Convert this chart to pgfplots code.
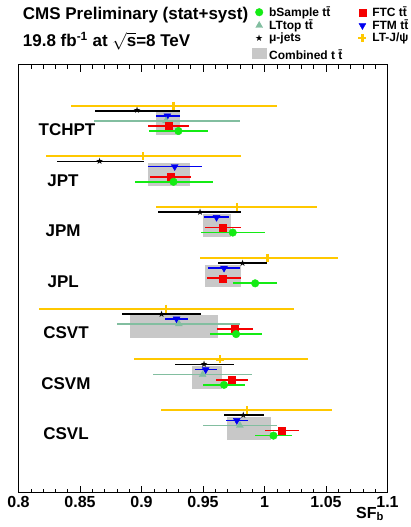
\documentclass[border=0pt]{standalone}
\usepackage{pgfplots}
\usepackage{pgfplotstable}
\pgfplotsset{compat=1.18}
\usepackage{fontspec}
\setmainfont{Liberation Sans}
\newfontfamily\starfont{DejaVu Sans}

\definecolor{cGreen}{RGB}{20,235,20}
\definecolor{cRed}{RGB}{245,0,0}
\definecolor{cBlue}{RGB}{0,0,240}
\definecolor{cTeal}{RGB}{130,190,160}
\definecolor{cYel}{RGB}{255,200,0}
\definecolor{cGray}{RGB}{200,200,200}

\newcommand\lbl{\fontsize{17}{20}\selectfont\bfseries}
\newcommand\tck{\fontsize{16}{19}\selectfont\bfseries}
\newcommand\leg{\fontsize{12}{14}\selectfont\bfseries}
\newcommand\ls{\rule[-3.5pt]{0pt}{11.5pt}}

% y: group g at 8+10g, one row per measurement
\pgfplotstableread{
x y em ep
0.926 8 0.083 0.084
0.901 18 0.079 0.080
0.9775 28 0.066 0.065
1.0024 38 0.055 0.057
0.920 48 0.103 0.104
0.964 58 0.070 0.071
0.9856 68 0.070 0.069
}\tJpsi
\pgfplotstableread{
x y em ep
0.8965 9 0.0345 0.0345
0.866 19 0.035 0.036
0.9476 29 0.034 0.033
0.9823 39 0.020 0.020
0.9163 49 0.032 0.032
0.951 59 0.024 0.024
0.9829 69 0.016 0.017
}\tMu
\pgfplotstableread{
x y em ep
0.921 10 0.009 0.010
0.927 20 0.022 0.022
0.961 30 0.010 0.010
0.9671 40 0.013 0.013
0.9285 50 0.0095 0.0095
0.9522 60 0.009 0.009
0.9775 70 0.009 0.009
}\tFTM
\pgfplotstableread{
x y em ep
0.920 11 0.059 0.060
0.9304 51 0.050 0.050
0.9497 61 0.040 0.040
0.980 71 0.030 0.030
}\tLTtop
\pgfplotstableread{
x y em ep
0.922 12 0.017 0.017
0.9236 22 0.017 0.017
0.966 32 0.0145 0.015
0.966 42 0.0125 0.015
0.976 52 0.0145 0.015
0.9734 62 0.013 0.013
1.0141 72 0.0136 0.0136
}\tFTC
\pgfplotstableread{
x y em ep
0.930 13 0.024 0.024
0.926 23 0.031 0.032
0.9742 33 0.026 0.026
0.9924 43 0.018 0.018
0.9769 53 0.021 0.021
0.9671 63 0.017 0.017
1.0073 73 0.015 0.015
}\tBS

\pgfplotsset{
  lm/.style={legend image code/.code={\path[##1] (0pt,0pt) (14.6pt,0pt) plot coordinates {(7.3pt,0pt)};}},
  meas/.style 2 args={only marks, forget plot, color=#1,
    error bars/x dir=both, error bars/x explicit, error bars/error mark=none,
    error bars/error bar style={line width=#2, color=#1}},
  box/.style={fill=cGray, draw=none, forget plot},
}

\begin{document}
\begin{tikzpicture}
\useasboundingbox (-18.5pt,-34.5pt) rectangle (391.5pt,492.5pt);
\begin{axis}[
    scale only axis,
    width=369pt, height=427.5pt,
    xmin=0.8, xmax=1.1,
    ymin=0, ymax=84.2, y dir=reverse,
    ytick=\empty,
    xtick={0.8,0.85,0.9,0.95,1,1.05,1.1},
    minor x tick num=4,
    xtick pos=both, xticklabel pos=lower,
    tick align=inside,
    major tick length=7pt, minor tick length=4pt,
    tick style={black, line width=0.6pt},
    axis line style={line width=1pt},
    /pgf/number format/assume math mode=true,
    xticklabel style={font=\tck},
    xlabel={SF\textsubscript{b}},
    xlabel style={font=\tck, at={(rel axis cs:1,0)}, anchor=base east, yshift=-25.8pt},
    clip=false,
    legend columns=2,
    legend cell align=left,
    legend style={draw=none, fill=none, inner sep=0pt, outer sep=0pt,
      at={(rel axis cs:0.632,1)}, anchor=north west, yshift=59.4pt,
      font=\leg, row sep=0pt,
      nodes={inner sep=1pt},
      /tikz/every odd column/.append style={column sep=1.4pt},
      /tikz/every even column/.append style={column sep=11.5pt}},
  ]
% combined tt boxes
\addplot[box] coordinates {(0.9117,9.3) (0.9312,9.3) (0.9312,13.8) (0.9117,13.8)} -- cycle;
\addplot[box] coordinates {(0.9054,19.3) (0.9394,19.3) (0.9394,23.8) (0.9054,23.8)} -- cycle;
\addplot[box] coordinates {(0.9497,29.3) (0.9728,29.3) (0.9728,33.8) (0.9497,33.8)} -- cycle;
\addplot[box] coordinates {(0.9516,39.3) (0.981,39.3) (0.981,43.8) (0.9516,43.8)} -- cycle;
\addplot[box] coordinates {(0.8905,49.3) (0.9625,49.3) (0.9625,53.8) (0.8905,53.8)} -- cycle;
\addplot[box] coordinates {(0.9413,59.3) (0.9653,59.3) (0.9653,63.8) (0.9413,63.8)} -- cycle;
\addplot[box] coordinates {(0.9693,69.3) (1.0052,69.3) (1.0052,73.8) (0.9693,73.8)} -- cycle;

\addplot[meas={cYel}{2pt}, mark=+, mark size=4pt, mark options={line width=2.2pt}]
  table[x=x, y=y, x error minus=em, x error plus=ep] {\tJpsi};
\addplot[meas={black}{1.8pt}, mark=text, text mark={\starfont\fontsize{9}{9}\selectfont ★}]
  table[x=x, y=y, x error minus=em, x error plus=ep] {\tMu};
\addplot[meas={cBlue}{1.7pt}, mark=triangle*, mark size=4pt, mark options={rotate=180}]
  table[x=x, y=y, x error minus=em, x error plus=ep] {\tFTM};
\addplot[meas={cTeal}{1.5pt}, mark=triangle*, mark size=4pt]
  table[x=x, y=y, x error minus=em, x error plus=ep] {\tLTtop};
\addplot[meas={cRed}{1.7pt}, mark=square*, mark size=3.5pt]
  table[x=x, y=y, x error minus=em, x error plus=ep] {\tFTC};
\addplot[meas={cGreen}{1.7pt}, mark=*, mark size=3.8pt]
  table[x=x, y=y, x error minus=em, x error plus=ep] {\tBS};

% legend, row by row
\addlegendimage{only marks, mark=*, color=cGreen, mark size=3.8pt, lm}
\addlegendentry{\ls bSample tt̄}
\addlegendimage{only marks, mark=square*, color=cRed, mark size=3.5pt, lm}
\addlegendentry{\ls FTC tt̄}
\addlegendimage{only marks, mark=triangle*, color=cTeal, mark size=4pt, lm}
\addlegendentry{\ls LTtop tt̄}
\addlegendimage{only marks, mark=triangle*, color=cBlue, mark size=4pt, mark options={rotate=180}, lm}
\addlegendentry{\ls FTM tt̄}
\addlegendimage{only marks, mark=text, text mark={\starfont\fontsize{9}{9}\selectfont ★}, color=black, lm}
\addlegendentry{\ls μ-jets}
\addlegendimage{only marks, mark=+, color=cYel, mark size=4pt, mark options={line width=2.2pt}, lm}
\addlegendentry{\ls LT-J/ψ}
\addlegendimage{legend image code/.code={\fill[cGray] (0pt,-5pt) rectangle (14.6pt,5pt);}}
\addlegendentry{\rule[-3.5pt]{0pt}{18pt}Combined t t̄}

% tagger names
\node[anchor=west, font=\lbl] at (axis cs:0.8135,12.7) {TCHPT};
\node[anchor=west, font=\lbl] at (axis cs:0.8206,22.7) {JPT};
\node[anchor=west, font=\lbl] at (axis cs:0.8192,32.7) {JPM};
\node[anchor=west, font=\lbl] at (axis cs:0.8208,42.7) {JPL};
\node[anchor=west, font=\lbl] at (axis cs:0.8173,52.7) {CSVT};
\node[anchor=west, font=\lbl] at (axis cs:0.8157,62.7) {CSVM};
\node[anchor=west, font=\lbl] at (axis cs:0.8173,72.7) {CSVL};

% header
\node[anchor=base west, font=\lbl, inner sep=0pt] at ([xshift=4.2pt, yshift=45.3pt]rel axis cs:0,1) {CMS Preliminary (stat+syst)};
\node[anchor=base west, font=\lbl, inner sep=0pt] at ([xshift=4.2pt, yshift=18pt]rel axis cs:0,1) {19.8 fb\textsuperscript{-1} at $\sqrt{\hbox{s}}$=8 TeV};
\end{axis}
\end{tikzpicture}
\end{document}
